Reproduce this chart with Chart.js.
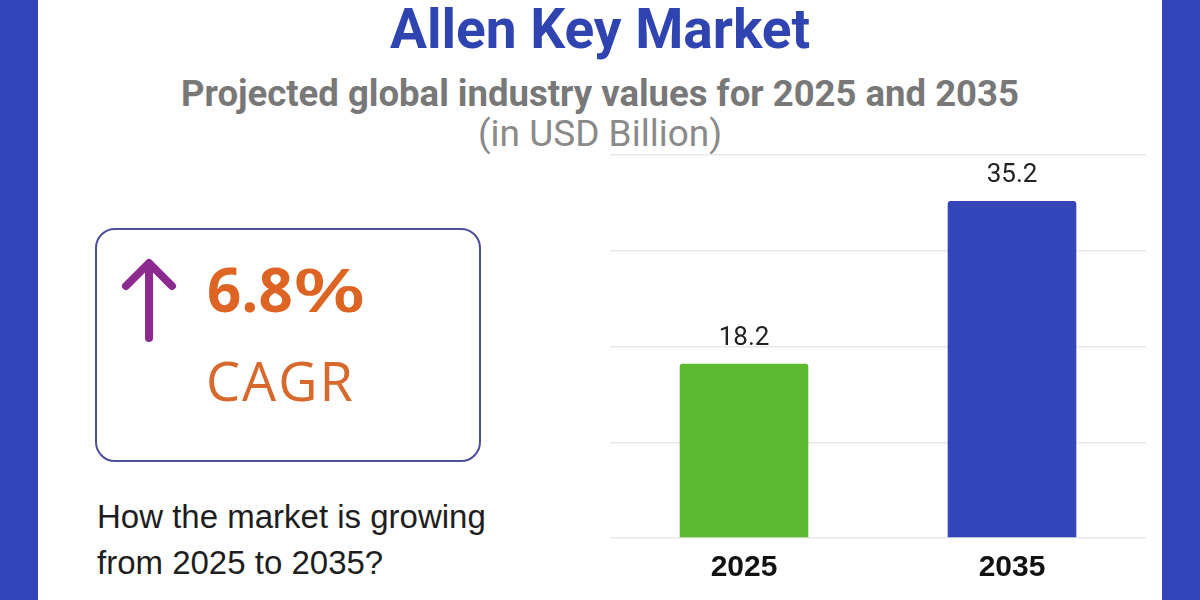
<!DOCTYPE html>
<html>
<head>
<meta charset="utf-8">
<script src="https://cdn.jsdelivr.net/npm/chart.js@4.4.1/dist/chart.umd.min.js"></script>
<style>
  html, body { margin: 0; padding: 0; }
  body { width: 1200px; height: 600px; position: relative; overflow: hidden; background: #fff; }
  .band { position: absolute; top: 0; width: 38px; height: 600px; background: #3345b9; }
  .txt { position: absolute; left: 0; width: 1200px; text-align: center; line-height: 1; white-space: nowrap; }
  #title { top: -3px; font: bold 55px Roboto, sans-serif; color: #2f44b0; }
  #subtitle { top: 72px; font: bold 36.5px Roboto, sans-serif; color: #787878; }
  #unit { top: 112px; font: 37px Roboto, sans-serif; color: #8a8a8a; }
  #box { position: absolute; left: 95px; top: 228px; width: 382px; height: 230px;
         border: 2.5px solid #4b5099; border-radius: 20px; }
  #cagr { position: absolute; left: 207px; top: 259px; font: bold 60px "Open Sans", sans-serif;
          color: #dd6422; line-height: 1; white-space: nowrap; }
  #cagr span { display: inline-block; font-weight: 600; transform: scaleX(1.4); transform-origin: left center; }
  #cagrLabel { position: absolute; left: 206px; top: 353px; font: 54px "Open Sans", sans-serif;
               color: #d8692c; line-height: 1; letter-spacing: 2px; }
  #question { position: absolute; left: 97px; top: 494px; font: 33px "Liberation Sans", Arial, sans-serif;
              color: #1e1e1e; line-height: 46px; white-space: nowrap; }
  #arrow { position: absolute; left: 0; top: 0; }
  #chartWrap { position: absolute; left: 600px; top: 140px; width: 560px; height: 460px; }
</style>
</head>
<body>
<div class="band" style="left:0"></div>
<div class="band" style="left:1162px"></div>

<div id="title" class="txt">Allen Key Market</div>
<div id="subtitle" class="txt">Projected global industry values for 2025 and 2035</div>
<div id="unit" class="txt">(in USD Billion)</div>

<div id="box"></div>
<svg id="arrow" width="300" height="400">
  <polyline points="149,338 149,264" fill="none" stroke="#8c2a90" stroke-width="8" stroke-linecap="round"/>
  <polyline points="126,286 149,263 172,286" fill="none" stroke="#8c2a90" stroke-width="8"
            stroke-linecap="round" stroke-linejoin="round"/>
</svg>
<div id="cagr">6.8<span>%</span></div>
<div id="cagrLabel">CAGR</div>
<div id="question">How the market is growing<br>from 2025 to 2035?</div>

<div id="chartWrap"><canvas id="myChart"></canvas></div>

<script>
const years = ["2025", "2035"];
const values = [18.2, 35.2];
const barColors = ["#5db92f", "#3345b8"];
const yTicks = [0, 10, 20, 30, 40];

// value labels above each bar
const valueLabels = {
  id: "valueLabels",
  afterDatasetsDraw(chart) {
    const c = chart.ctx;
    const meta = chart.getDatasetMeta(0);
    c.save();
    c.font = "26px Roboto, sans-serif";
    c.fillStyle = "#222";
    c.textAlign = "center";
    c.textBaseline = "alphabetic";
    meta.data.forEach((bar, i) => {
      c.fillText(values[i].toFixed(1), bar.x, bar.y - 19);
    });
    c.restore();
  },
};

new Chart(document.getElementById("myChart"), {
  type: "bar",
  data: {
    labels: years,
    datasets: [
      {
        data: values,
        backgroundColor: barColors,
        borderRadius: 3,
        borderSkipped: "bottom",
        categoryPercentage: 1,
        barPercentage: 0.48,
      },
    ],
  },
  options: {
    responsive: true,
    maintainAspectRatio: false,
    animation: false,
    layout: { padding: { top: 15, left: 10, right: 14, bottom: 10 } },
    scales: {
      x: {
        grid: { display: false },
        border: { display: false },
        ticks: {
          color: "#111",
          padding: 4,
          font: { family: "Liberation Sans, Arial, sans-serif", size: 30, weight: "bold" },
        },
      },
      y: {
        min: yTicks[0],
        max: yTicks[yTicks.length - 1],
        afterBuildTicks: (axis) => {
          axis.ticks = yTicks.map((v) => ({ value: v }));
        },
        ticks: { display: false },
        border: { display: false },
        grid: { color: "#e8e8e8", lineWidth: 1.5, drawTicks: false },
      },
    },
    plugins: {
      legend: { display: false },
      tooltip: { enabled: false },
    },
  },
  plugins: [valueLabels],
});
</script>
</body>
</html>
